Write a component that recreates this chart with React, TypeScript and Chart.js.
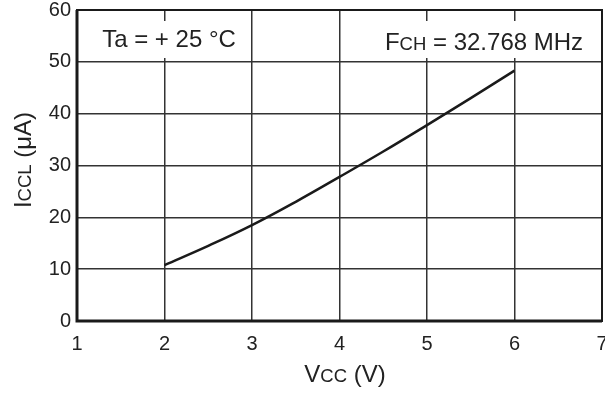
import React, { useEffect, useRef } from "react";
import { Chart, registerables } from "chart.js";

Chart.register(...registerables);

const vcc = [2, 2.5, 3, 3.5, 4, 4.5, 5, 5.5, 6];
const iccl = [10.8, 14.5, 18.5, 23, 27.8, 32.7, 37.8, 43, 48.3];
const xTicks = [1, 2, 3, 4, 5, 6, 7];
const yTicks = [0, 10, 20, 30, 40, 50, 60];
const noteTa = ["Ta = + 25 °C"];
const noteF = ["F", "CH", " = 32.768 MHz"];

const FONT = "Arial, 'Liberation Sans', sans-serif";

function drawParts(ctx: CanvasRenderingContext2D, parts: [string, number][], x: number, y: number, align: "left" | "center") {
  let total = 0;
  parts.forEach(([t, s]) => {
    ctx.font = `${s}px ${FONT}`;
    total += ctx.measureText(t).width;
  });
  let cx = align === "center" ? x - total / 2 : x;
  parts.forEach(([t, s]) => {
    ctx.font = `${s}px ${FONT}`;
    ctx.fillText(t, cx, y);
    cx += ctx.measureText(t).width;
  });
}

const decor = {
  id: "decor",
  afterDraw(chart: any) {
    const { ctx, chartArea: a } = chart;
    ctx.save();
    // annotation boxes
    ctx.fillStyle = "#fff";
    ctx.fillRect(96, 21, 152, 37);
    ctx.fillRect(380, 21, 214, 37);
    ctx.fillStyle = "#222";
    ctx.textBaseline = "alphabetic";
    ctx.textAlign = "left";
    drawParts(ctx, [[noteTa[0], 24]], 169, 47, "center");
    drawParts(ctx, [[noteF[0], 24], [noteF[1], 18.5], [noteF[2], 24]], 484, 50, "center");
    // frame
    ctx.strokeStyle = "#1a1a1a";
    ctx.lineWidth = 2;
    ctx.strokeRect(a.left, a.top, a.right - a.left, a.bottom - a.top);
    ctx.lineWidth = 3;
    ctx.beginPath();
    ctx.moveTo(a.left, a.top);
    ctx.lineTo(a.left, a.bottom);
    ctx.lineTo(a.right, a.bottom);
    ctx.stroke();
    // axis titles
    drawParts(ctx, [["V", 24], ["CC", 18.5], [" (V)", 24]], 345, 382, "center");
    ctx.translate(31, 160);
    ctx.rotate(-Math.PI / 2);
    drawParts(ctx, [["I", 24], ["CCL", 18.5], [" (μA)", 24]], 0, 0, "center");
    ctx.restore();
  },
};

export default function App() {
  const ref = useRef<HTMLCanvasElement>(null);
  useEffect(() => {
    document.body.style.margin = "0";
    const chart = new Chart(ref.current!, {
      type: "line",
      data: {
        datasets: [
          {
            data: vcc.map((v, i) => ({ x: v, y: iccl[i] })),
            borderColor: "#1a1a1a",
            borderWidth: 2.5,
            pointRadius: 0,
            tension: 0.4,
            fill: false,
          },
        ],
      },
      options: {
        responsive: false,
        animation: false,
        layout: { padding: { top: 10, right: 3, left: 0, bottom: 0 } },
        plugins: { legend: { display: false }, tooltip: { enabled: false } },
        scales: {
          x: {
            type: "linear",
            min: 1,
            max: 7,
            afterBuildTicks: (s: any) => { s.ticks = xTicks.map((v) => ({ value: v })); },
            afterFit: (s: any) => { s.height = 73; s.paddingLeft = 0; s.paddingRight = 0; },
            grid: { color: "#333", lineWidth: 1.5, drawTicks: false },
            border: { display: false },
            ticks: { color: "#222", font: { size: 20, family: FONT }, padding: 11, autoSkip: false, maxRotation: 0 },
          },
          y: {
            type: "linear",
            min: 0,
            max: 60,
            afterBuildTicks: (s: any) => { s.ticks = yTicks.map((v) => ({ value: v })); },
            afterFit: (s: any) => { s.width = 77; s.paddingTop = 0; s.paddingBottom = 0; },
            grid: { color: "#333", lineWidth: 1.5, drawTicks: false },
            border: { display: false },
            ticks: { color: "#222", font: { size: 20, family: FONT }, padding: 6 },
          },
        },
      },
      plugins: [decor],
    });
    return () => chart.destroy();
  }, []);
  return <canvas ref={ref} width={605} height={394} style={{ display: "block" }} />;
}
